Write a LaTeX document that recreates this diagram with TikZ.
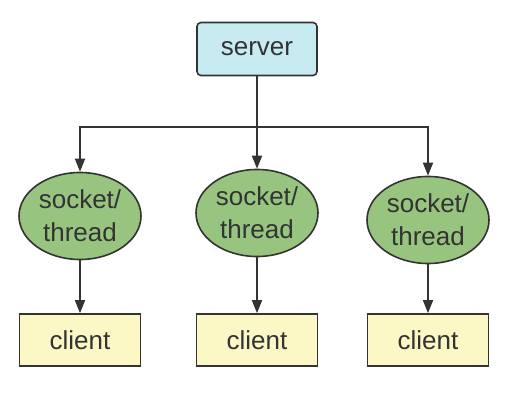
\documentclass[tikz,border=0pt]{standalone}
\usepackage{fontspec}
\setmainfont{Liberation Sans}
\usetikzlibrary{shapes.geometric,arrows.meta}

\definecolor{srvblue}{HTML}{C8EBF2}
\definecolor{thrgreen}{HTML}{97C57F}
\definecolor{cliyellow}{HTML}{FCF8C6}
\definecolor{inkgray}{HTML}{333333}

\begin{document}
\begin{tikzpicture}[x=1pt,y=-1pt,
    every node/.style={draw=inkgray,line width=1.6pt,text=inkgray,
      font=\fontsize{26}{33}\selectfont,align=center,inner sep=0pt},
    serverbox/.style={rectangle,rounded corners=4pt,fill=srvblue,
      minimum width=120pt,minimum height=53pt},
    threadnode/.style={ellipse,fill=thrgreen,
      minimum width=122pt,minimum height=87pt},
    clientbox/.style={rectangle,fill=cliyellow,
      minimum width=121pt,minimum height=52pt},
    link/.style={draw=inkgray,line width=1.6pt,
      -{Triangle[length=13pt,width=10pt]}}]
  \useasboundingbox (0,0) rectangle (512,396);
  % Server
  \node[serverbox] (server) at (257,49) {server};
  % Socket/thread workers
  \node[threadnode] (t1) at (80,216) {socket/\\thread};
  \node[threadnode] (t2) at (257,213) {socket/\\thread};
  \node[threadnode] (t3) at (428,220) {socket/\\thread};
  % Clients
  \node[clientbox] (c1) at (80,340) {client};
  \node[clientbox] (c2) at (257,340) {client};
  \node[clientbox] (c3) at (428,340) {client};
  % Fan-out bus
  \coordinate (bus) at (257,127);
  \draw[link] (server) -- (t2);
  \draw[link] (bus) -| (t1);
  \draw[link] (bus) -| (t3);
  % Thread to client
  \draw[link] (t1) -- (c1);
  \draw[link] (t2) -- (c2);
  \draw[link] (t3) -- (c3);
\end{tikzpicture}
\end{document}
